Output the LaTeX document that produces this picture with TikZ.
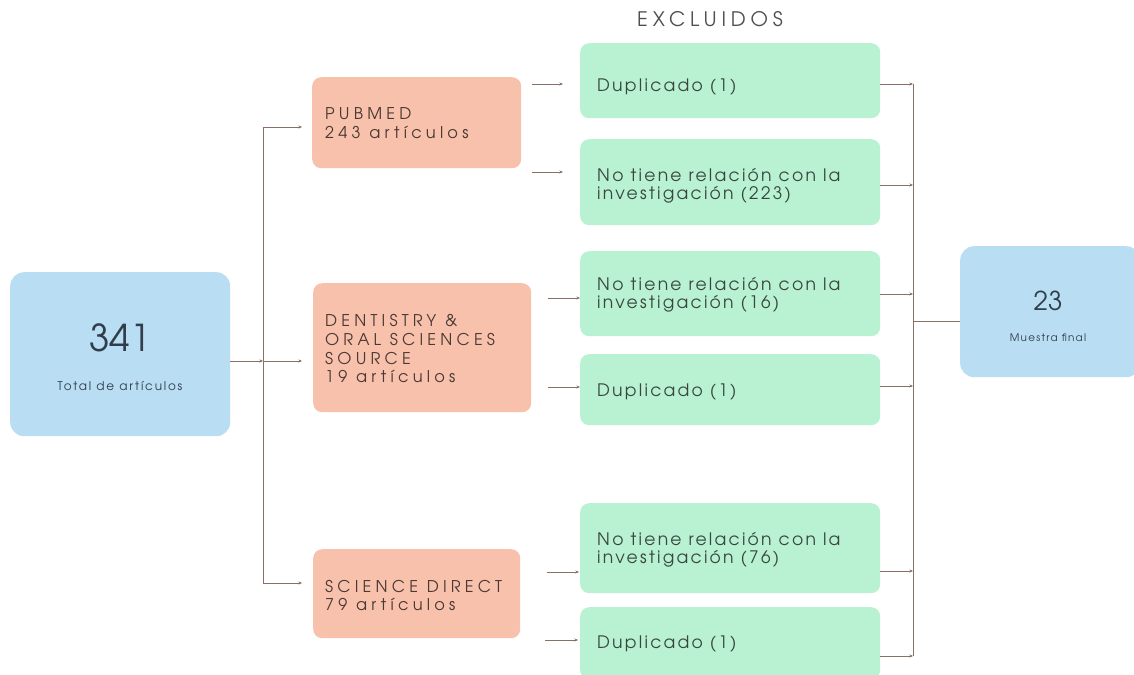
\documentclass[tikz,border=0pt]{standalone}
\usepackage{fontspec}
\setmainfont{texgyreadventor-regular.otf}
\usetikzlibrary{arrows.meta}
\definecolor{bluebox}{HTML}{B9DDF2}
\definecolor{orangebox}{HTML}{F8C1AC}
\definecolor{greenbox}{HTML}{B9F2D2}
\definecolor{linec}{HTML}{8A6F69}
\definecolor{txtg}{HTML}{38463F}
\definecolor{txto}{HTML}{4A3834}
\definecolor{txtb}{HTML}{2F3E4A}
\definecolor{txtt}{HTML}{4C5051}
\tikzset{
  base/.style={rounded corners=9pt, inner sep=0pt, anchor=north west},
  srcbox/.style={base, fill=orangebox},
  exbox/.style={base, fill=greenbox},
  totbox/.style={base, fill=bluebox, rounded corners=14pt},
  srctxt/.style={anchor=base west, inner sep=0pt, align=left, text=txto,
     font=\fontsize{16.2}{18.7}\selectfont\addfontfeature{LetterSpace=26}},
  extxt/.style={anchor=base west, inner sep=0pt, align=left, text=txtg,
     font=\fontsize{17.2}{17.6}\selectfont\addfontfeature{LetterSpace=13}},
  conn/.style={draw=linec, line width=0.9pt},
  arr/.style={conn, -{Stealth[length=3.5pt,width=3pt]}},
}
\begin{document}
\begin{tikzpicture}[x=1pt,y=-1pt]
\path[use as bounding box] (0,0) rectangle (1134,674);
% totals
\node[totbox, minimum width=220pt, minimum height=164pt] (total) at (10,272) {};
\node[anchor=base, inner sep=0pt, text=txtb, font=\fontsize{37}{40}\selectfont] (n341) at (120,351.7) {341};
\node[anchor=base, inner sep=0pt, text=txtb, font=\fontsize{12}{14}\selectfont\addfontfeature{LetterSpace=15}] (tl) at (120,390.7) {Total de artículos};
\node[totbox, minimum width=180pt, minimum height=131pt] (final) at (960,246) {};
\node[anchor=base, inner sep=0pt, text=txtb, font=\fontsize{26}{30}\selectfont] (n23) at (1048,310.7) {23};
\node[anchor=base, inner sep=0pt, text=txtb, font=\fontsize{10.4}{12}\selectfont\addfontfeature{LetterSpace=12}] (mf) at (1048,341.7) {Muestra final};
% title
\node[anchor=base, inner sep=0pt, text=txtt, font=\fontsize{20}{22}\selectfont\addfontfeature{LetterSpace=24}] (excl) at (710,26.7) {EXCLUIDOS};
% source boxes
\node[srcbox, minimum width=209pt, minimum height=91pt] (pub) at (312,77) {};
\node[srcbox, minimum width=218pt, minimum height=129pt] (dos) at (313,283) {};
\node[srcbox, minimum width=207pt, minimum height=89pt] (sd) at (313,549) {};
% multi-line texts: anchored at the baseline of their last line
\node[srctxt] (pubt) at (325,138.5) {PUBMED\\243 artículos};
\node[srctxt] (dost) at (325,382.7) {DENTISTRY \&\\ORAL SCIENCES\\SOURCE\\19 artículos};
\node[srctxt] (sdt) at (325,610.7) {SCIENCE DIRECT\\79 artículos};
% excluded boxes
\node[exbox, minimum width=300pt, minimum height=75pt] (e1) at (580,43) {};
\node[exbox, minimum width=300pt, minimum height=86pt] (e2) at (580,139) {};
\node[exbox, minimum width=300pt, minimum height=85pt] (e3) at (580,251) {};
\node[exbox, minimum width=300pt, minimum height=71pt] (e4) at (580,354) {};
\node[exbox, minimum width=300pt, minimum height=90pt] (e5) at (580,503) {};
\node[exbox, minimum width=300pt, minimum height=72pt] (e6) at (580,607) {};
\node[extxt] (e1t) at (597,91.7) {Duplicado (1)};
\node[extxt] (e2t) at (597,199.3) {No tiene relación con la\\investigación (223)};
\node[extxt] (e3t) at (597,308.3) {No tiene relación con la\\investigación (16)};
\node[extxt] (e4t) at (597,396.7) {Duplicado (1)};
\node[extxt] (e5t) at (597,563) {No tiene relación con la\\investigación (76)};
\node[extxt] (e6t) at (597,648.3) {Duplicado (1)};
% left tree
\coordinate (jmid) at (263,361);
\coordinate (jtop) at (263,127);
\coordinate (jbot) at (263,583);
\draw[arr] (total.east |- jmid) -- (jmid);
\draw[conn] (jtop) -- (jbot);
\draw[arr] (jtop) -- ++(39,0);
\draw[arr] (jmid) -- ++(39,0);
\draw[arr] (jbot) -- ++(39,0);
% source -> excluded arrows
\coordinate (a1) at (532,84);  \draw[arr] (a1) -- ++(31,0);
\coordinate (a2) at (532,172); \draw[arr] (a2) -- ++(31,0);
\coordinate (a3) at (548,298); \draw[arr] (a3) -- ++(32,0);
\coordinate (a4) at (548,387); \draw[arr] (a4) -- ++(32,0);
\coordinate (a5) at (547,572); \draw[arr] (a5) -- ++(32,0);
\coordinate (a6) at (545,640); \draw[arr] (a6) -- ++(33,0);
% right collector
\coordinate (r1) at (913,84);
\coordinate (r2) at (913,185);
\coordinate (r3) at (913,294);
\coordinate (r4) at (913,386);
\coordinate (r5) at (913,571);
\coordinate (r6) at (913,656);
\coordinate (rm) at (913,321);
\draw[conn] (r1) -- (r6);
\foreach \b/\r in {e1/r1,e2/r2,e3/r3,e4/r4,e5/r5,e6/r6} \draw[arr] (\b.east |- \r) -- (\r);
\draw[conn] (rm) -- (final.west |- rm);
\end{tikzpicture}
\end{document}
